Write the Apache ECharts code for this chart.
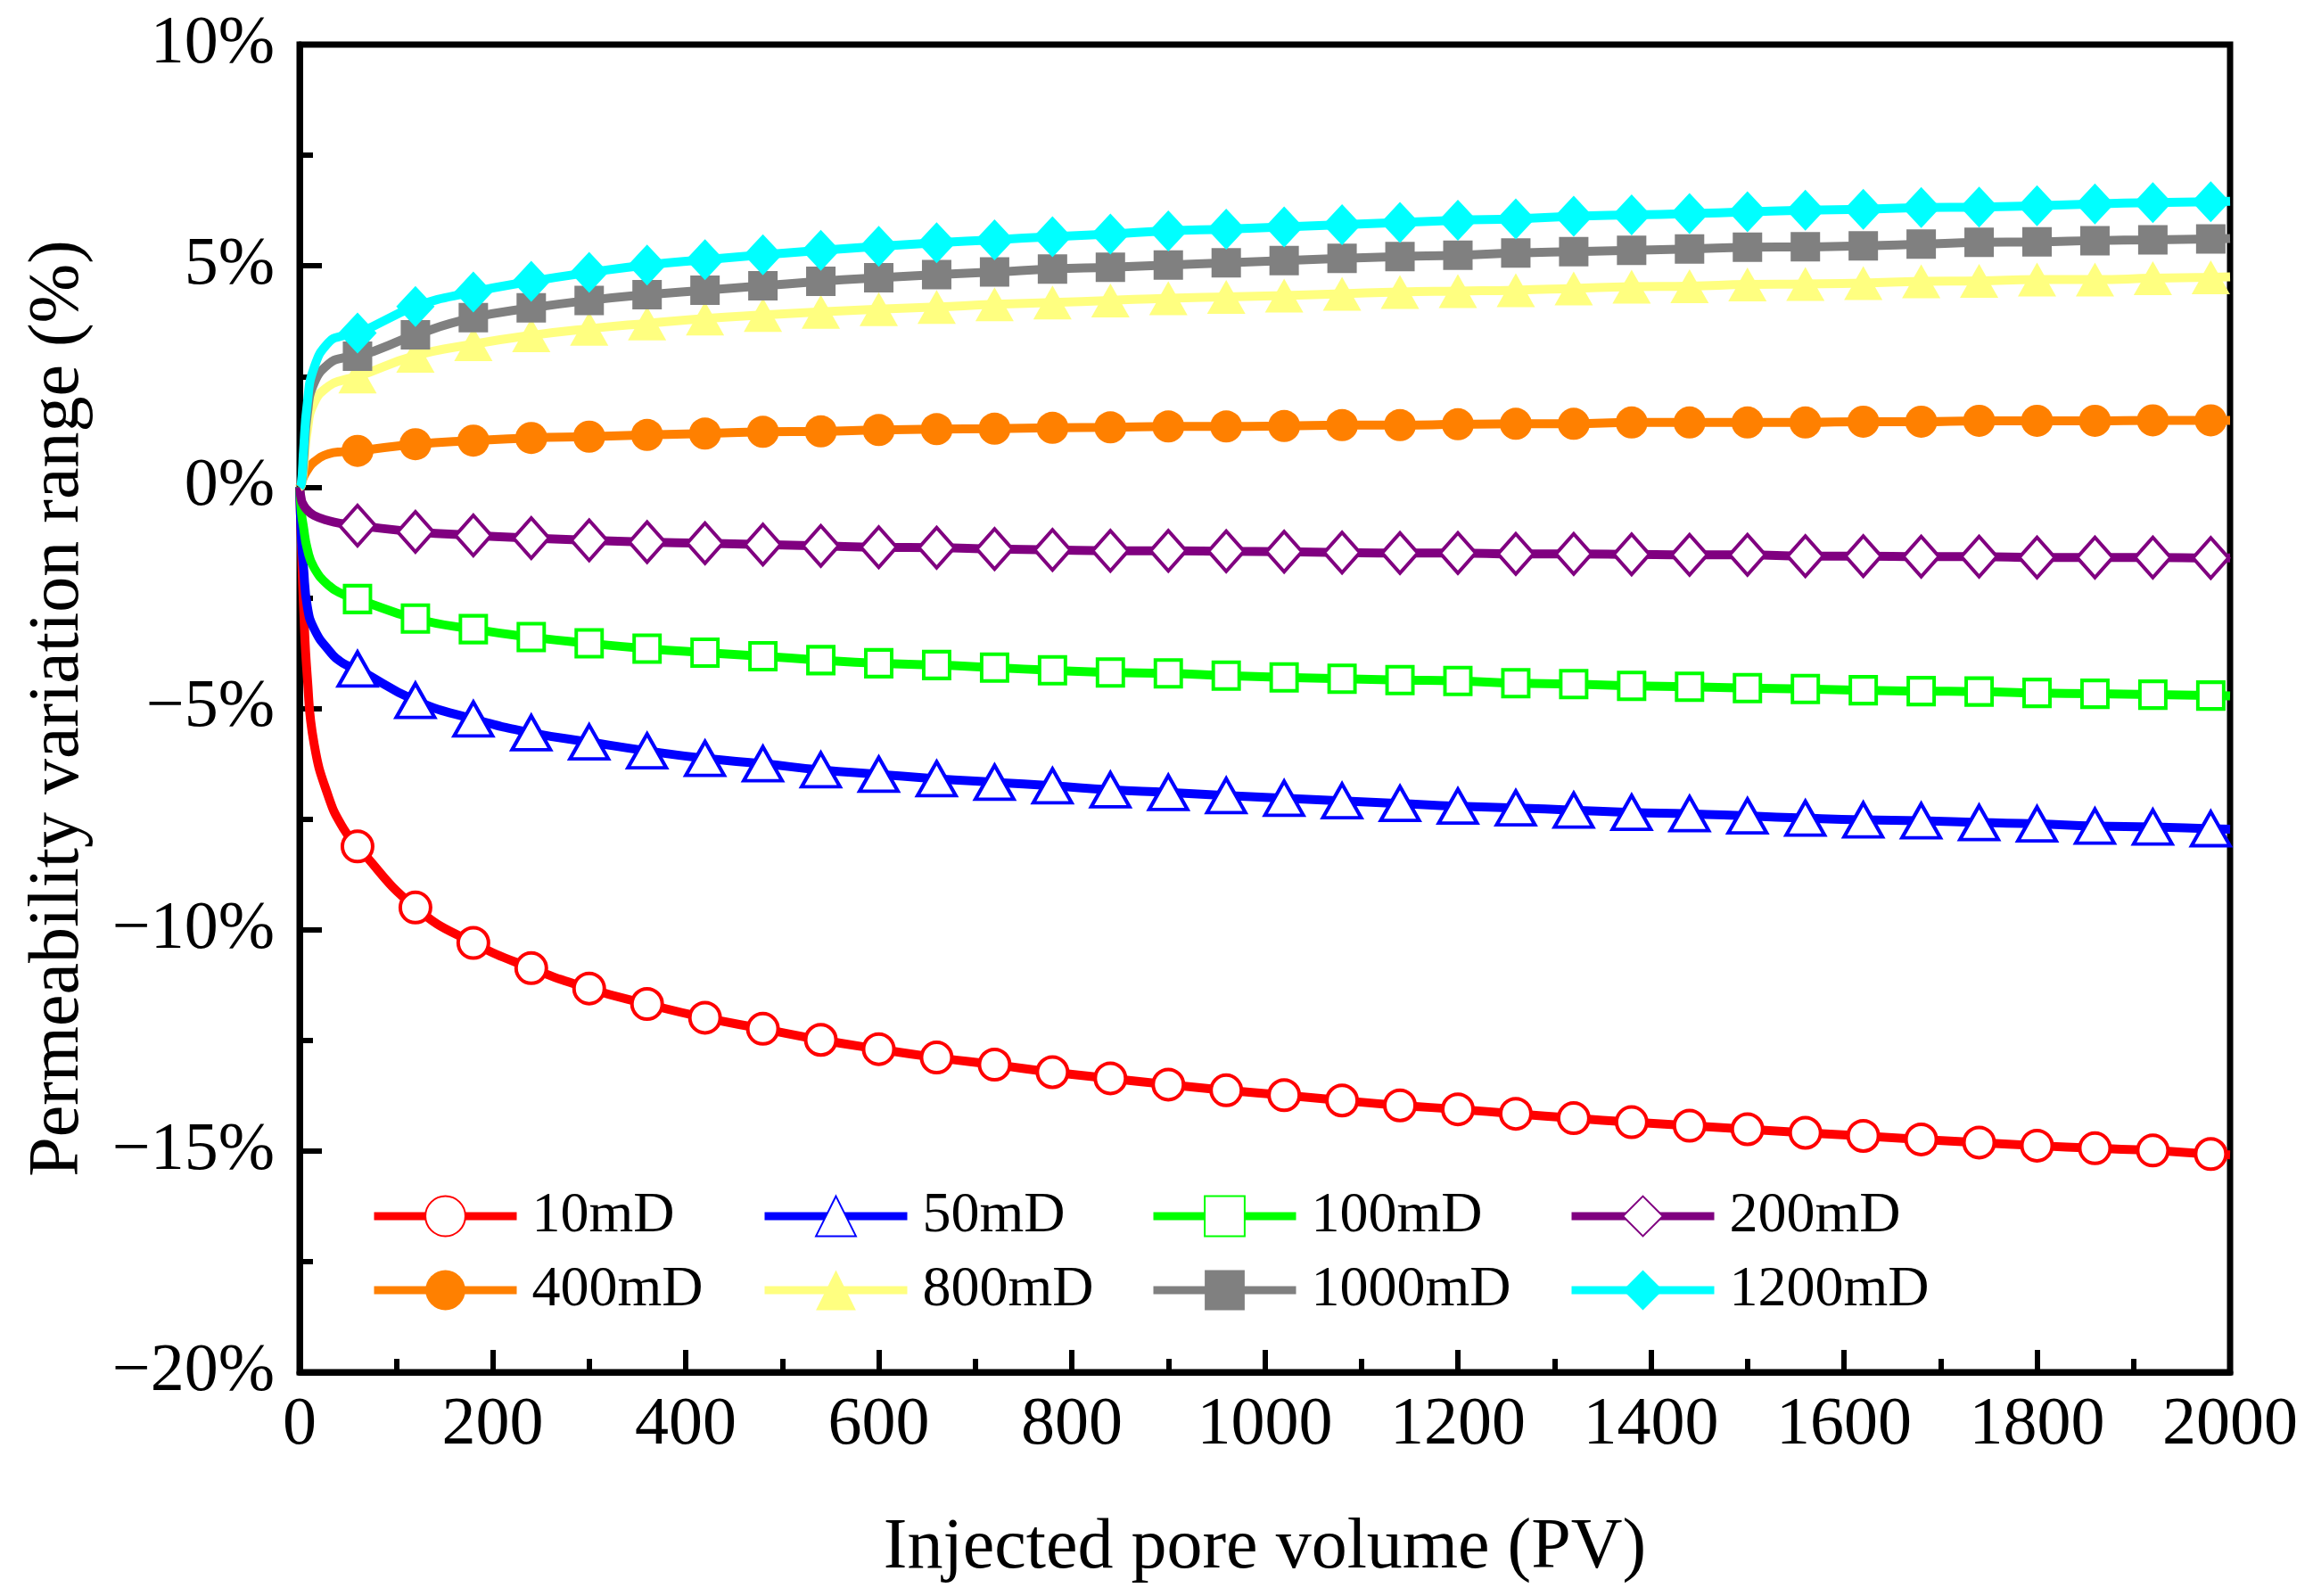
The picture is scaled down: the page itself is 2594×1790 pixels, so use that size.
<!DOCTYPE html>
<html>
<head>
<meta charset="utf-8">
<script src="https://cdn.jsdelivr.net/npm/echarts@6/dist/echarts.min.js"></script>
<style>
  html, body { margin: 0; padding: 0; background: #fff; }
  #chart { width: 2594px; height: 1790px; }
</style>
</head>
<body>
<div id="chart"></div>
<script>
// injected pore volume where the markers sit
const pvMarkers = [60, 120, 180, 240, 300, 360, 420, 480, 540, 600, 660, 720, 780, 840, 900, 960,
    1020, 1080, 1140, 1200, 1260, 1320, 1380, 1440, 1500, 1560, 1620, 1680, 1740, 1800, 1860, 1920, 1980];
// early part of the curves (no markers), and the line end
const pvEarly = [0, 2, 4, 8, 15, 30, 45];
const pvEnd = 2000;

const seriesNames = ['10mD', '50mD', '100mD', '200mD', '400mD', '800mD', '1000mD', '1200mD'];

const early10 = [0, -1.4, -2.65, -4.3, -5.8, -7.0, -7.7];
const vals10 = [-8.12, -9.50, -10.30, -10.87, -11.33, -11.68, -11.99, -12.24, -12.49, -12.70, -12.89, -13.05, -13.22, -13.36, -13.50, -13.63,
    -13.74, -13.86, -13.97, -14.06, -14.16, -14.26, -14.35, -14.43, -14.51, -14.59, -14.66, -14.74, -14.81, -14.88, -14.94, -14.99, -15.07];
const end10 = -15.09;

const early50 = [0, -1.2, -1.8, -2.7, -3.2, -3.68, -3.98];
const vals50 = [-4.11, -4.82, -5.24, -5.55, -5.76, -5.96, -6.13, -6.25, -6.39, -6.49, -6.59, -6.67, -6.75, -6.84, -6.90, -6.97,
    -7.03, -7.09, -7.15, -7.21, -7.25, -7.30, -7.35, -7.38, -7.43, -7.48, -7.52, -7.54, -7.58, -7.61, -7.66, -7.68, -7.72];
const end50 = -7.73;

const early100 = [0, -0.6, -0.9, -1.4, -1.82, -2.22, -2.42];
const vals100 = [-2.53, -2.97, -3.21, -3.39, -3.53, -3.65, -3.74, -3.82, -3.91, -3.98, -4.02, -4.08, -4.14, -4.19, -4.21, -4.26,
    -4.30, -4.33, -4.36, -4.38, -4.43, -4.45, -4.49, -4.51, -4.54, -4.56, -4.59, -4.61, -4.62, -4.65, -4.67, -4.69, -4.71];
const end100 = -4.72;

const early200 = [0, -0.3, -0.4, -0.52, -0.64, -0.76, -0.83];
const vals200 = [-0.87, -1.01, -1.09, -1.15, -1.20, -1.24, -1.27, -1.30, -1.33, -1.36, -1.37, -1.40, -1.42, -1.44, -1.44, -1.45,
    -1.46, -1.48, -1.49, -1.49, -1.51, -1.51, -1.52, -1.53, -1.53, -1.56, -1.56, -1.57, -1.57, -1.59, -1.59, -1.59, -1.60];
const end200 = -1.60;

const early400 = [0, 0.1, 0.22, 0.38, 0.57, 0.75, 0.8];
const vals400 = [0.82, 0.97, 1.05, 1.11, 1.14, 1.18, 1.21, 1.25, 1.26, 1.29, 1.31, 1.32, 1.34, 1.35, 1.37, 1.37,
    1.38, 1.40, 1.40, 1.42, 1.43, 1.43, 1.46, 1.46, 1.46, 1.46, 1.48, 1.48, 1.50, 1.50, 1.50, 1.51, 1.51];
const end400 = 1.51;

const early800 = [0, 0.05, 0.4, 1.28, 1.9, 2.28, 2.42];
const vals800 = [2.50, 2.97, 3.23, 3.43, 3.58, 3.70, 3.81, 3.89, 3.96, 4.02, 4.07, 4.13, 4.17, 4.22, 4.27, 4.30,
    4.33, 4.37, 4.41, 4.43, 4.45, 4.49, 4.53, 4.54, 4.58, 4.59, 4.61, 4.65, 4.66, 4.69, 4.69, 4.72, 4.74];
const end800 = 4.75;

const early1000 = [0, 0.1, 0.6, 1.65, 2.35, 2.78, 2.92];
const vals1000 = [2.96, 3.44, 3.83, 4.05, 4.22, 4.35, 4.45, 4.55, 4.65, 4.73, 4.80, 4.86, 4.93, 4.97, 5.02, 5.07,
    5.12, 5.17, 5.21, 5.24, 5.29, 5.32, 5.35, 5.38, 5.42, 5.43, 5.45, 5.49, 5.53, 5.54, 5.57, 5.59, 5.61];
const end1000 = 5.62;

const early1200 = [0, 0.1, 0.8, 1.9, 2.7, 3.27, 3.42];
const vals1200 = [3.48, 4.08, 4.41, 4.65, 4.85, 5.02, 5.14, 5.25, 5.35, 5.44, 5.52, 5.59, 5.66, 5.72, 5.79, 5.83,
    5.88, 5.93, 5.98, 6.03, 6.06, 6.12, 6.15, 6.18, 6.22, 6.26, 6.28, 6.32, 6.33, 6.36, 6.40, 6.43, 6.45];
const end1200 = 6.46;

const yTicks = [-20, -15, -10, -5, 0, 5, 10];

const FONT = '"Liberation Serif", "Times New Roman", serif';

function buildData(early, vals, endVal) {
    let d = [];
    for (let i = 0; i < pvEarly.length; i++) {
        d.push({value: [pvEarly[i], early[i]], symbol: 'none'});
    }
    for (let i = 0; i < pvMarkers.length; i++) {
        d.push([pvMarkers[i], vals[i]]);
    }
    d.push({value: [pvEnd, endVal], symbol: 'none'});
    return d;
}

// symbol, size, colour, hollow
const styles = [
    ['circle', 34, '#ff0000', true],
    ['triangle', [43, 38], '#0000ff', true],
    ['rect', [29, 30], '#00ff00', true],
    ['diamond', [40, 45], '#800080', true],
    ['circle', 36, '#ff8000', false],
    ['triangle', [43, 38], '#ffff80', false],
    ['rect', [33, 33], '#808080', false],
    ['diamond', [43, 46], '#00ffff', false]
];
const allData = [
    buildData(early10, vals10, end10),
    buildData(early50, vals50, end50),
    buildData(early100, vals100, end100),
    buildData(early200, vals200, end200),
    buildData(early400, vals400, end400),
    buildData(early800, vals800, end800),
    buildData(early1000, vals1000, end1000),
    buildData(early1200, vals1200, end1200)
];

let series = seriesNames.map(function (name, i) {
    let st = styles[i];
    return {
        name: name,
        type: 'line',
        smooth: 0.5,
        showAllSymbol: true,
        symbol: st[0],
        symbolSize: st[1],
        lineStyle: {color: st[2], width: 10},
        itemStyle: st[3] ? {color: '#ffffff', borderColor: st[2], borderWidth: 4} : {color: st[2], borderWidth: 0},
        data: allData[i],
        z: 2 + i
    };
});

// legend: two rows of four, inside the plot
const legLeft = [415, 853, 1289, 1758];
const legTop = [1332, 1415];
let legends = seriesNames.map(function (name, i) {
    return {
        data: [name],
        left: legLeft[i % 4],
        top: legTop[Math.floor(i / 4)],
        padding: 0,
        itemWidth: 160,
        itemHeight: 56,
        selectedMode: false,
        lineStyle: {width: 9},
        textStyle: {fontFamily: FONT, fontSize: 64, color: '#000', padding: [0, 0, 0, 12]}
    };
});

let chart = echarts.init(document.getElementById('chart'));
chart.setOption({
    animation: false,
    backgroundColor: '#ffffff',
    grid: {left: 336, right: 93, top: 50, bottom: 251, show: true, borderColor: '#000', borderWidth: 7, backgroundColor: 'transparent'},
    legend: legends,
    xAxis: {
        type: 'value',
        min: 0,
        max: 2000,
        interval: 200,
        name: 'Injected pore volume (PV)',
        nameLocation: 'middle',
        nameGap: 158,
        nameTextStyle: {fontFamily: FONT, fontSize: 80, color: '#000'},
        axisLine: {show: true, onZero: false, lineStyle: {color: '#000', width: 7}},
        axisTick: {show: true, inside: true, length: 25, lineStyle: {color: '#000', width: 6}},
        minorTick: {show: true, splitNumber: 2, length: 15, lineStyle: {color: '#000', width: 6}},
        splitLine: {show: false},
        axisLabel: {
            fontFamily: FONT, fontSize: 76, color: '#000', margin: 22,
            formatter: function (v) { return String(v); }
        }
    },
    yAxis: {
        type: 'value',
        min: yTicks[0],
        max: yTicks[yTicks.length - 1],
        interval: 5,
        name: 'Permeability variation range (%)',
        nameLocation: 'middle',
        nameGap: 230,
        nameTextStyle: {fontFamily: FONT, fontSize: 80, color: '#000'},
        axisLine: {show: true, onZero: false, lineStyle: {color: '#000', width: 7}},
        axisTick: {show: true, inside: true, length: 25, lineStyle: {color: '#000', width: 6}},
        minorTick: {show: true, splitNumber: 2, length: 15, lineStyle: {color: '#000', width: 6}},
        splitLine: {show: false},
        axisLabel: {
            fontFamily: FONT, fontSize: 76, color: '#000', margin: 28,
            formatter: function (v) { return (v < 0 ? '\u2212' + Math.abs(v) : v) + '%'; }
        }
    },
    series: series
});
</script>
</body>
</html>
